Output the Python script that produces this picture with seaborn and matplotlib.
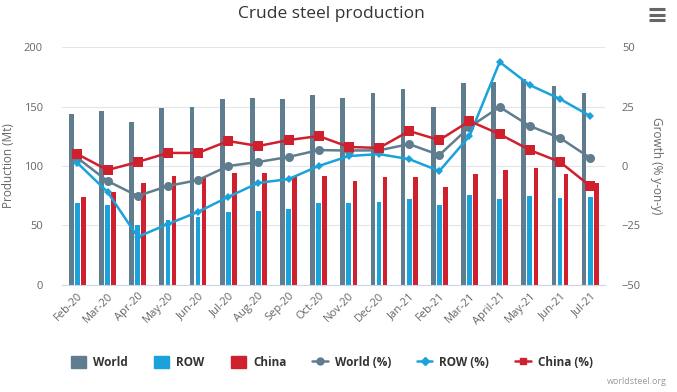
import numpy as np
import pandas as pd
import seaborn as sns
import matplotlib.pyplot as plt
from matplotlib.lines import Line2D
from matplotlib.patches import Patch

months = ["Feb-20", "Mar-20", "Apr-20", "May-20", "Jun-20", "Jul-20", "Aug-20", "Sep-20",
          "Oct-20", "Nov-20", "Dec-20", "Jan-21", "Feb-21", "Mar-21", "April-21", "May-21",
          "Jun-21", "Jul-21"]

# production (Mt)
world = [144, 146, 137, 149, 150, 156, 157, 156, 160, 157, 161, 165, 150, 170, 171, 173, 167, 161]
row = [69, 67, 50, 55, 57, 61, 62, 64, 69, 69, 70, 72, 67, 76, 72, 75, 73, 74]
china = [74, 78, 86, 92, 91, 94, 94, 92, 92, 87, 91, 91, 82, 93, 97, 98, 93, 86]

# growth (% y-on-y)
world_pct = [3.4, -6.3, -12.6, -8.4, -5.9, 0.0, 1.7, 3.8, 6.7, 6.5, 6.6, 9.2, 4.6, 16.4, 24.8, 16.8, 11.8, 3.4]
row_pct = [1.3, -10.9, -29.8, -24.4, -19.3, -13.0, -7.1, -5.5, 0.0, 4.2, 5.0, 2.9, -2.1, 12.6, 43.7, 34.0, 28.2, 21.0]
china_pct = [5.0, -1.7, 1.7, 5.5, 5.5, 10.5, 8.4, 10.9, 12.6, 8.0, 7.6, 14.7, 10.9, 18.9, 13.4, 6.7, 1.7, -8.4]

c_world = "#5f7d8e"
c_row = "#1aa3db"
c_china = "#d0202e"
txt = "#666666"

x = np.arange(len(months))
bars = pd.DataFrame({
    "x": np.tile(x, 3),
    "val": world + row + china,
    "series": ["World"] * len(x) + ["ROW"] * len(x) + ["China"] * len(x),
})

sns.set_style("white")
plt.rcParams["font.family"] = ["Open Sans", "DejaVu Sans"]

fig, ax = plt.subplots(figsize=(6.77, 3.92), dpi=100)
fig.subplots_adjust(left=0.092, right=0.894, top=0.88, bottom=0.273)

sns.barplot(data=bars, x="x", y="val", hue="series", native_scale=True,
            palette=[c_world, c_row, c_china], width=0.6, gap=0.22,
            saturation=1, linewidth=0, legend=False, ax=ax)

ax.set_ylim(0, 200)
ax.set_yticks([0, 50, 100, 150, 200])
ax.set_xlim(-0.5, len(months) - 0.5)
ax.yaxis.grid(True, color="#e6e6e6", linewidth=0.8)
ax.set_axisbelow(True)
for s in ["top", "left", "right"]:
    ax.spines[s].set_visible(False)
ax.spines["bottom"].set_color("#ccd6eb")
ax.set_xticks(x)
ax.set_xticklabels(months, rotation=45, ha="right", rotation_mode="anchor")
ax.set_xticks(np.arange(-0.5, len(months)), minor=True)
ax.tick_params(axis="x", which="major", length=0, colors=txt, labelsize=8, pad=4)
ax.tick_params(axis="x", which="minor", length=8, color="#ccd6eb", direction="out")
ax.tick_params(axis="y", length=0, colors=txt, labelsize=8, pad=14)
ax.set_xlabel("")
ax.set_ylabel("Production (Mt)", color=txt, fontsize=8.5, labelpad=6)

ax2 = ax.twinx()
sns.lineplot(x=x, y=world_pct, color=c_world, marker="o", markersize=6.5,
             markeredgewidth=0, linewidth=1.8, ax=ax2)
sns.lineplot(x=x, y=row_pct, color=c_row, marker="D", markersize=4.5,
             markeredgewidth=0, linewidth=1.8, ax=ax2)
sns.lineplot(x=x, y=china_pct, color=c_china, marker="s", markersize=7,
             markeredgewidth=0, linewidth=1.8, ax=ax2)
ax2.set_ylim(-50, 50)
ax2.set_yticks([-50, -25, 0, 25, 50])
for s in ["top", "left", "right", "bottom"]:
    ax2.spines[s].set_visible(False)
ax2.tick_params(axis="y", length=0, colors=txt, labelsize=8, pad=12)
ax2.set_ylabel("Growth (% y-on-y)", color=txt, fontsize=8.5, rotation=270, labelpad=16)

fig.suptitle("Crude steel production", x=0.49, y=0.985, fontsize=12.5, color="#333333")

handles = [
    Patch(color=c_world), Patch(color=c_row), Patch(color=c_china),
    Line2D([], [], color=c_world, marker="o", markersize=5, linewidth=1.8),
    Line2D([], [], color=c_row, marker="D", markersize=4, linewidth=1.8),
    Line2D([], [], color=c_china, marker="s", markersize=5, linewidth=1.8),
]
labels = ["World", "ROW", "China", "World (%)", "ROW (%)", "China (%)"]
leg = fig.legend(handles, labels, loc="center", bbox_to_anchor=(0.49, 0.075), ncol=6,
                 frameon=False, fontsize=8.5, handlelength=1.3, handleheight=1.1,
                 columnspacing=2.2, handletextpad=0.6)
for t in leg.get_texts():
    t.set_fontweight("bold")
    t.set_color("#333333")

fig.text(0.985, 0.015, "worldsteel.org", ha="right", va="bottom", fontsize=6.5, color="#999999")

# menu icon
for yy in [0.948, 0.962, 0.976]:
    fig.add_artist(Line2D([0.958, 0.982], [yy, yy], color="#666666", linewidth=2.2,
                          solid_capstyle="butt"))

fig.savefig("out.png", dpi=100)
